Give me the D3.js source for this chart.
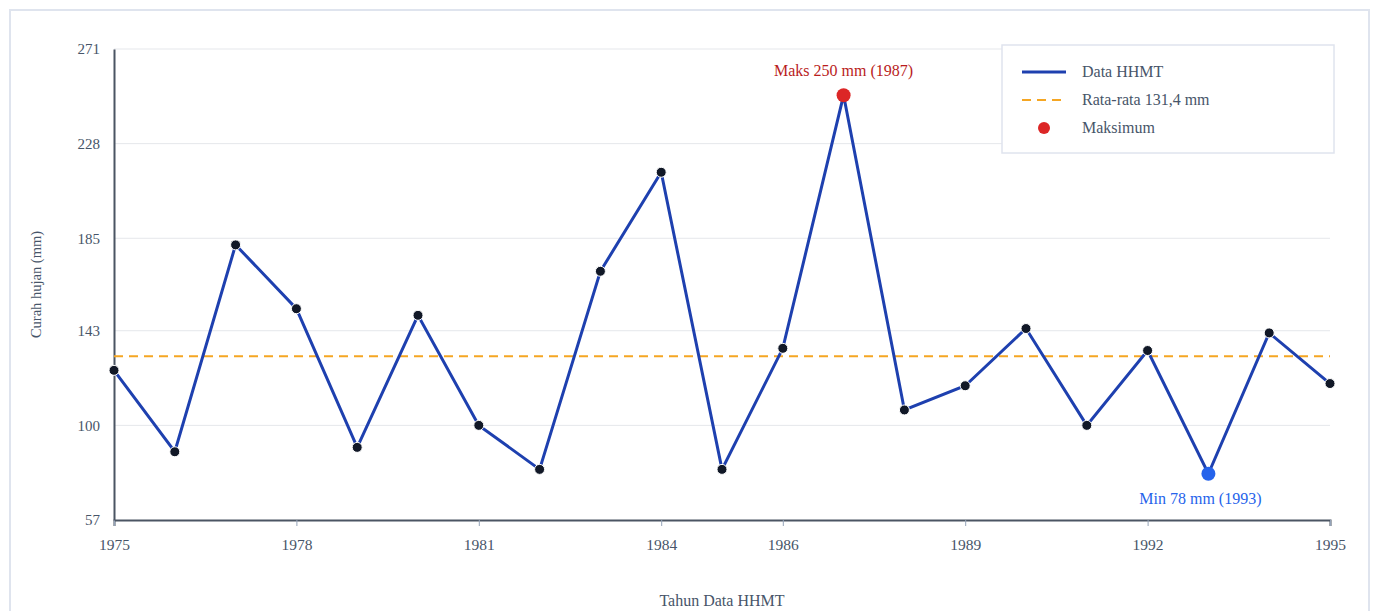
<!DOCTYPE html>
<html><head><meta charset="utf-8">
<script src="https://cdn.jsdelivr.net/npm/d3@7"></script>
<style>
html,body{margin:0;padding:0;background:#fff;}
svg{display:block;}
svg text{font-family:"Liberation Serif","Times New Roman",serif;}
</style></head>
<body><svg id="c" width="1373" height="611"></svg>
<script>
const years = [1975,1976,1977,1978,1979,1980,1981,1982,1983,1984,1985,1986,1987,1988,1989,1990,1991,1992,1993,1994,1995];
const rainfall = [125,88,182,153,90,150,100,80,170,215,80,135,250,107,118,144,100,134,78,142,119];
const xTickValues = [1975,1978,1981,1984,1986,1989,1992,1995];
const yTickValues = [57,100,143,185,228,271];
const legendLabels = ["Data HHMT","Rata-rata 131,4 mm","Maksimum"];
const meanValue = d3.mean(rainfall);

const svg = d3.select("#c");
const m = {left:114, right:1330, top:49, bottom:520};

svg.append("rect").attr("x",10).attr("y",10).attr("width",1359).attr("height",640)
  .attr("fill","#fff").attr("stroke","#dfe4ee").attr("stroke-width",2);

const x = d3.scaleLinear().domain([1975,1995]).range([m.left,m.right]);
const y = d3.scaleLinear().domain([57,271]).range([m.bottom,m.top]);

svg.append("g").selectAll("line").data(yTickValues.slice(1)).join("line")
  .attr("x1",m.left).attr("x2",m.right).attr("y1",d=>y(d)).attr("y2",d=>y(d))
  .attr("stroke","#e5e7eb").attr("stroke-width",1);

const xAxis = svg.append("g").attr("transform",`translate(0,${m.bottom})`)
  .call(d3.axisBottom(x).tickValues(xTickValues).tickFormat(d3.format("d")).tickSizeOuter(0).tickSize(6).tickPadding(13));
xAxis.select(".domain").attr("stroke","#4b5563").attr("stroke-width",2);
xAxis.selectAll(".tick line").attr("stroke","#94a3b8");
xAxis.selectAll(".tick text").attr("fill","#475569").attr("font-size",15.5).attr("font-family","Liberation Serif, serif");

const yAxis = svg.append("g").attr("transform",`translate(${m.left},0)`)
  .call(d3.axisLeft(y).tickValues(yTickValues).tickFormat(d3.format("d")).tickSize(0).tickPadding(14));
yAxis.select(".domain").attr("stroke","#4b5563").attr("stroke-width",2);
yAxis.selectAll(".tick text").attr("fill","#475569").attr("font-size",15).attr("font-family","Liberation Serif, serif");

svg.append("text").attr("x",(m.left+m.right)/2).attr("y",606).attr("text-anchor","middle")
  .attr("fill","#475569").attr("font-size",16).text("Tahun Data HHMT");
svg.append("text").attr("transform",`translate(41,${(m.top+m.bottom)/2}) rotate(-90)`).attr("text-anchor","middle")
  .attr("fill","#475569").attr("font-size",14.5).text("Curah hujan (mm)");

svg.append("line").attr("x1",m.left).attr("x2",m.right).attr("y1",y(meanValue)).attr("y2",y(meanValue))
  .attr("stroke","#f5a623").attr("stroke-width",2).attr("stroke-dasharray","9,6");

const data = years.map((yr,i)=>({yr, v:rainfall[i]}));
svg.append("path").datum(data)
  .attr("d", d3.line().x(d=>x(d.yr)).y(d=>y(d.v)))
  .attr("fill","none").attr("stroke","#1e40af").attr("stroke-width",3);

const maxV = d3.max(rainfall), minV = d3.min(rainfall);
const maxD = data.find(d=>d.v===maxV), minD = data.find(d=>d.v===minV);

svg.append("g").selectAll("circle").data(data.filter(d=>d!==maxD && d!==minD)).join("circle")
  .attr("cx",d=>x(d.yr)).attr("cy",d=>y(d.v)).attr("r",5).attr("fill","#111827")
  .attr("stroke","#fff").attr("stroke-width",1);

svg.append("circle").attr("cx",x(maxD.yr)).attr("cy",y(maxD.v)).attr("r",7).attr("fill","#dc2626");
svg.append("circle").attr("cx",x(minD.yr)).attr("cy",y(minD.v)).attr("r",7).attr("fill","#2563eb");

svg.append("text").attr("x",x(maxD.yr)).attr("y",y(maxD.v)-19).attr("text-anchor","middle")
  .attr("fill","#b91c1c").attr("font-size",16).text(`Maks ${maxV} mm (${maxD.yr})`);
svg.append("text").attr("x",x(minD.yr)).attr("dx",-8).attr("y",y(minD.v)+30).attr("text-anchor","middle")
  .attr("fill","#2563eb").attr("font-size",16).text(`Min ${minV} mm (${minD.yr})`);

const lg = svg.append("g");
lg.append("rect").attr("x",1002).attr("y",45).attr("width",332).attr("height",108)
  .attr("fill","#fff").attr("stroke","#dfe4ee").attr("stroke-width",1.5);
const ly = [72,100,128];
lg.append("line").attr("x1",1022).attr("x2",1066).attr("y1",ly[0]).attr("y2",ly[0]).attr("stroke","#1e40af").attr("stroke-width",3);
lg.append("line").attr("x1",1022).attr("x2",1066).attr("y1",ly[1]).attr("y2",ly[1]).attr("stroke","#f5a623").attr("stroke-width",2).attr("stroke-dasharray","9,6");
lg.append("circle").attr("cx",1044).attr("cy",ly[2]).attr("r",6).attr("fill","#dc2626");
lg.selectAll("text.l").data(legendLabels).join("text").attr("class","l")
  .attr("x",1082).attr("y",(d,i)=>ly[i]+5).attr("fill","#475569").attr("font-size",16).text(d=>d);
</script></body></html>
